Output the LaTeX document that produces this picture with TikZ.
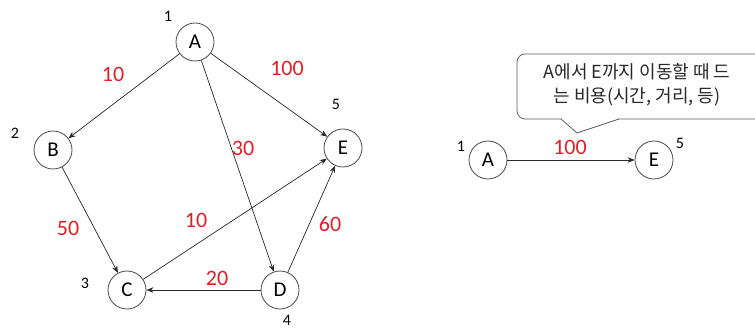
\documentclass[tikz,border=0pt]{standalone}
\usepackage{fontspec}
\setmainfont{Carlito}
\newfontfamily\kr{Noto Sans CJK KR}
\usetikzlibrary{arrows.meta}
\definecolor{wred}{RGB}{228,30,38}
\definecolor{ink}{RGB}{40,40,40}
\begin{document}
\begin{tikzpicture}[x=1pt,y=-1pt,
  vert/.style={circle,draw=ink!85,line width=0.8pt,minimum size=38pt,inner sep=0pt,font=\fontsize{21}{21}\selectfont},
  wt/.style={text=wred,font=\fontsize{22}{22}\selectfont},
  idx/.style={font=\fontsize{16}{16}\selectfont},
  arc/.style={draw=ink,line width=0.7pt,-{Stealth[length=7pt,width=5.5pt]}},
  callout/.style={draw=ink!75,line width=0.8pt}]
\useasboundingbox (0,0) rectangle (755,328);
% left graph
\node[vert] (A) at (195,42) {A};
\node[vert] (B) at (53,150) {B};
\node[vert] (C) at (127,290) {C};
\node[vert] (D) at (280,290) {D};
\node[vert] (E) at (343,148) {E};
\node[idx] (n1) at (168,16) {1};
\node[idx] (n2) at (15,133) {2};
\node[idx] (n3) at (85,283) {3};
\node[idx] (n4) at (287,320) {4};
\node[idx] (n5) at (336,104) {5};
\draw[arc] (A) -- (B);
\draw[arc] (A) -- (E);
\draw[arc] (A) -- (D);
\draw[arc] (B) -- (C);
\draw[arc] (C) -- (E);
\draw[arc] (D) -- (E);
\draw[arc] (D) -- (C);
\node[wt] (wAB) at (113,74) {10};
\node[wt] (wAE) at (287,68) {100};
\node[wt] (wAD) at (243,148) {30};
\node[wt] (wBC) at (68,228) {50};
\node[wt] (wCE) at (196,220) {10};
\node[wt] (wDE) at (330,224) {60};
\node[wt] (wDC) at (217,278) {20};
% right example
\node[vert] (A2) at (488,160) {A};
\node[vert] (E2) at (654,160) {E};
\node[idx] (m1) at (461,146) {1};
\node[idx] (m5) at (680,143) {5};
\draw[arc] (A2) -- (E2);
\node[wt] (w2) at (570,147) {100};
% callout
\draw[callout,rounded corners=8pt] (517,54) rectangle (775,119);
\fill[white] (562,117) rectangle (618,121);
\draw[callout] (561,119) -- (577,133) -- (619,119);
\node[font=\kr\fontsize{18}{24}\selectfont,align=center,text=ink] (note) at (637,85) {A에서 E까지 이동할 때 드\\는 비용(시간, 거리, 등)};
\end{tikzpicture}
\end{document}
